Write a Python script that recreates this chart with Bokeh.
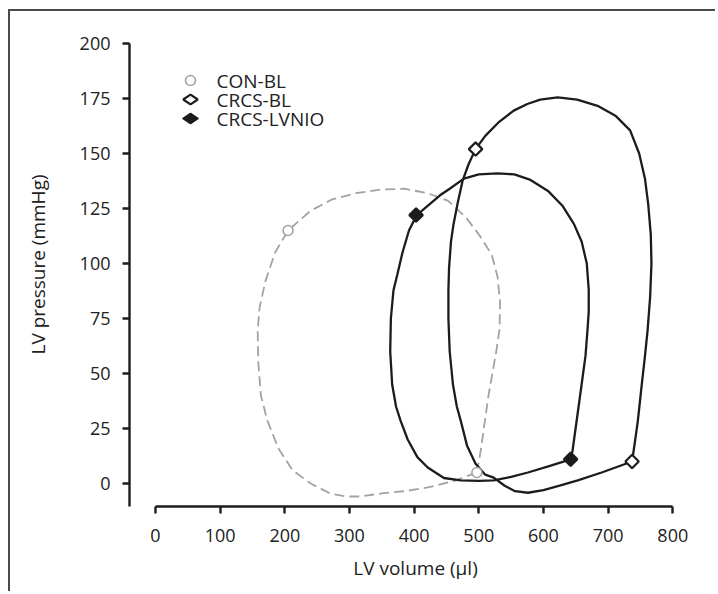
import math
from bokeh.plotting import figure
from bokeh.models import FixedTicker, Range1d
from bokeh.core.properties import value
from bokeh.embed import file_html
from bokeh.resources import INLINE

# ---- data (LV volume in µl, LV pressure in mmHg) ----
con_vol = [497, 503, 515, 527, 532, 533, 529, 520, 503, 480, 452, 420, 385, 348, 310,
           272, 240, 205, 185, 170, 161, 158, 159, 163, 173, 190, 212, 240, 270, 294,
           317, 350, 385, 421, 460, 497]
con_pres = [5, 15, 40, 60, 70, 82, 94, 104, 112, 121, 128.6, 132, 134, 133.6, 132,
            129, 124, 115, 105, 92, 80, 69.5, 55, 40, 28.6, 16, 6, 0, -4.5, -5.9,
            -5.9, -4.5, -3.5, -1.8, 1, 5]

bl_vol = [737, 741, 746, 752, 757, 761, 765, 767, 766, 762, 757, 748, 734, 712, 685,
          652, 622, 595, 575, 554, 530, 510, 495, 484, 475, 467, 461, 457, 454, 453,
          453, 455, 460, 466, 472, 482, 495, 510, 523, 540, 556, 576, 600, 625, 653,
          690, 737]
bl_pres = [10, 18, 28.6, 45, 58, 69.5, 85, 100, 113, 127, 138.5, 150, 160.5, 167, 171.5,
           174.5, 175.5, 174.5, 172.5, 169.5, 164, 158, 152, 145, 137.7, 127, 118, 110, 98, 87.7,
           75, 60, 45, 35, 28.6, 17, 9, 4, 2.7, -1, -3.5, -4.2, -3, -1, 1.4,
           5, 10]

lv_vol = [642, 645, 652, 659, 665, 668, 670, 670, 667, 659, 647, 630, 607, 580, 555,
          529, 500, 477, 455, 440, 420, 404, 392, 382, 374, 368, 364, 363, 366, 372,
          379, 390, 405, 421, 446, 472, 500, 523, 550, 576, 610, 642]
lv_pres = [11, 15, 30, 45, 58, 69.5, 78, 88, 100, 110, 118, 126, 133, 138, 140.5,
           141, 140.5, 138.6, 134, 131, 126, 122, 115, 105, 95, 87.7, 75, 60, 45, 35,
           28.6, 20, 12, 7.3, 2.5, 1.4, 1.2, 1.4, 3, 5, 8, 11]

con_pts_vol = [205, 497]
con_pts_pres = [115, 5]
bl_pts_vol = [495, 737]
bl_pts_pres = [152, 10]
lv_pts_vol = [403, 642]
lv_pts_pres = [122, 11]

x_ticks = [0, 100, 200, 300, 400, 500, 600, 700, 800]
y_ticks = [0, 25, 50, 75, 100, 125, 150, 175, 200]
series_names = ["CON-BL", "CRCS-BL", "CRCS-LVNIO"]

FONT = "Open Sans"
TXT = "#222222"
GRAY = "#a3a3a3"
DARK = "#1c1c1c"

# ---- layout (pixels) ----
W, H = 707, 582
BL, BR, BT, BB = 119, 16, 11, 87
FW, FH = W - BL - BR, H - BT - BB

p = figure(width=W, height=H,
           x_range=Range1d(-40.2, 844.4), y_range=Range1d(-10.45, 209.55),
           output_backend="svg", toolbar_location=None,
           min_border_left=BL, min_border_right=BR, min_border_top=BT, min_border_bottom=BB)
p.styles = {"border-style": "solid none none solid", "border-width": "2px 0px 0px 2px",
            "border-color": "#4a4a4a",
            "margin-top": "9px", "margin-left": "8px"}
p.outline_line_color = None
p.grid.visible = False
p.background_fill_color = "white"
p.border_fill_color = "white"

for ax in (p.xaxis[0], p.yaxis[0]):
    ax.axis_line_width = 2.4
    ax.axis_line_color = DARK
    ax.major_tick_line_width = 2.4
    ax.major_tick_line_color = DARK
    ax.major_tick_in = 0
    ax.major_tick_out = 7
    ax.minor_tick_line_color = None
    ax.major_label_text_font = FONT
    ax.major_label_text_font_size = "18px"
    ax.major_label_text_color = TXT
    ax.axis_label_text_font = FONT
    ax.axis_label_text_font_size = "19px"
    ax.axis_label_text_font_style = "normal"
    ax.axis_label_text_color = TXT

p.xaxis.ticker = FixedTicker(ticks=x_ticks)
p.yaxis.ticker = FixedTicker(ticks=y_ticks)
p.xaxis.bounds = (0, 800)
p.yaxis.bounds = (-10.45, 200)
p.xaxis.major_label_standoff = 15
p.yaxis.major_label_standoff = 12
p.xaxis.axis_label = "LV volume (µl)"
p.yaxis.axis_label = "LV pressure (mmHg)"
p.xaxis.axis_label_standoff = 10
p.yaxis.axis_label_standoff = 26

# loops
p.line(con_vol, con_pres, line_color=GRAY, line_width=1.8, line_dash="10 5")
p.line(bl_vol, bl_pres, line_color=DARK, line_width=2.3)
p.line(lv_vol, lv_pres, line_color=DARK, line_width=2.3)

# markers
p.scatter(con_pts_vol, con_pts_pres, marker="circle", size=10,
          line_color=GRAY, line_width=1.6, fill_color="white")
p.scatter(bl_pts_vol, bl_pts_pres, marker="square", angle=math.pi / 4, size=9.5,
          line_color=DARK, line_width=2.2, fill_color="white")
p.scatter(lv_pts_vol, lv_pts_pres, marker="square", angle=math.pi / 4, size=9.5,
          line_color=DARK, line_width=2.2, fill_color=DARK)

# legend drawn in a pixel frame (x from frame left, y from frame bottom)
p.extra_x_ranges = {"px": Range1d(0, FW)}
p.extra_y_ranges = {"py": Range1d(0, FH)}
leg_x = 61
leg_text_x = 87
leg_y = [FH - 58, FH - 77, FH - 96]
p.scatter([leg_x], [leg_y[0]], x_range_name="px", y_range_name="py",
          marker="circle", size=10, line_color=GRAY, line_width=1.6, fill_color="white")
p.scatter([leg_x], [leg_y[1]], x_range_name="px", y_range_name="py",
          marker="diamond", angle=math.pi / 2, size=14.5, line_color=DARK, line_width=2.2,
          fill_color="white")
p.scatter([leg_x], [leg_y[2]], x_range_name="px", y_range_name="py",
          marker="diamond", angle=math.pi / 2, size=15.5, line_color=DARK, line_width=1.5,
          fill_color=DARK)
p.text([leg_text_x] * 3, leg_y, text=series_names, x_range_name="px", y_range_name="py",
       text_font=value(FONT), text_font_size="19px", text_color=TXT,
       text_baseline="middle", text_align="left")

open("out.html", "w").write(file_html(p, INLINE))
